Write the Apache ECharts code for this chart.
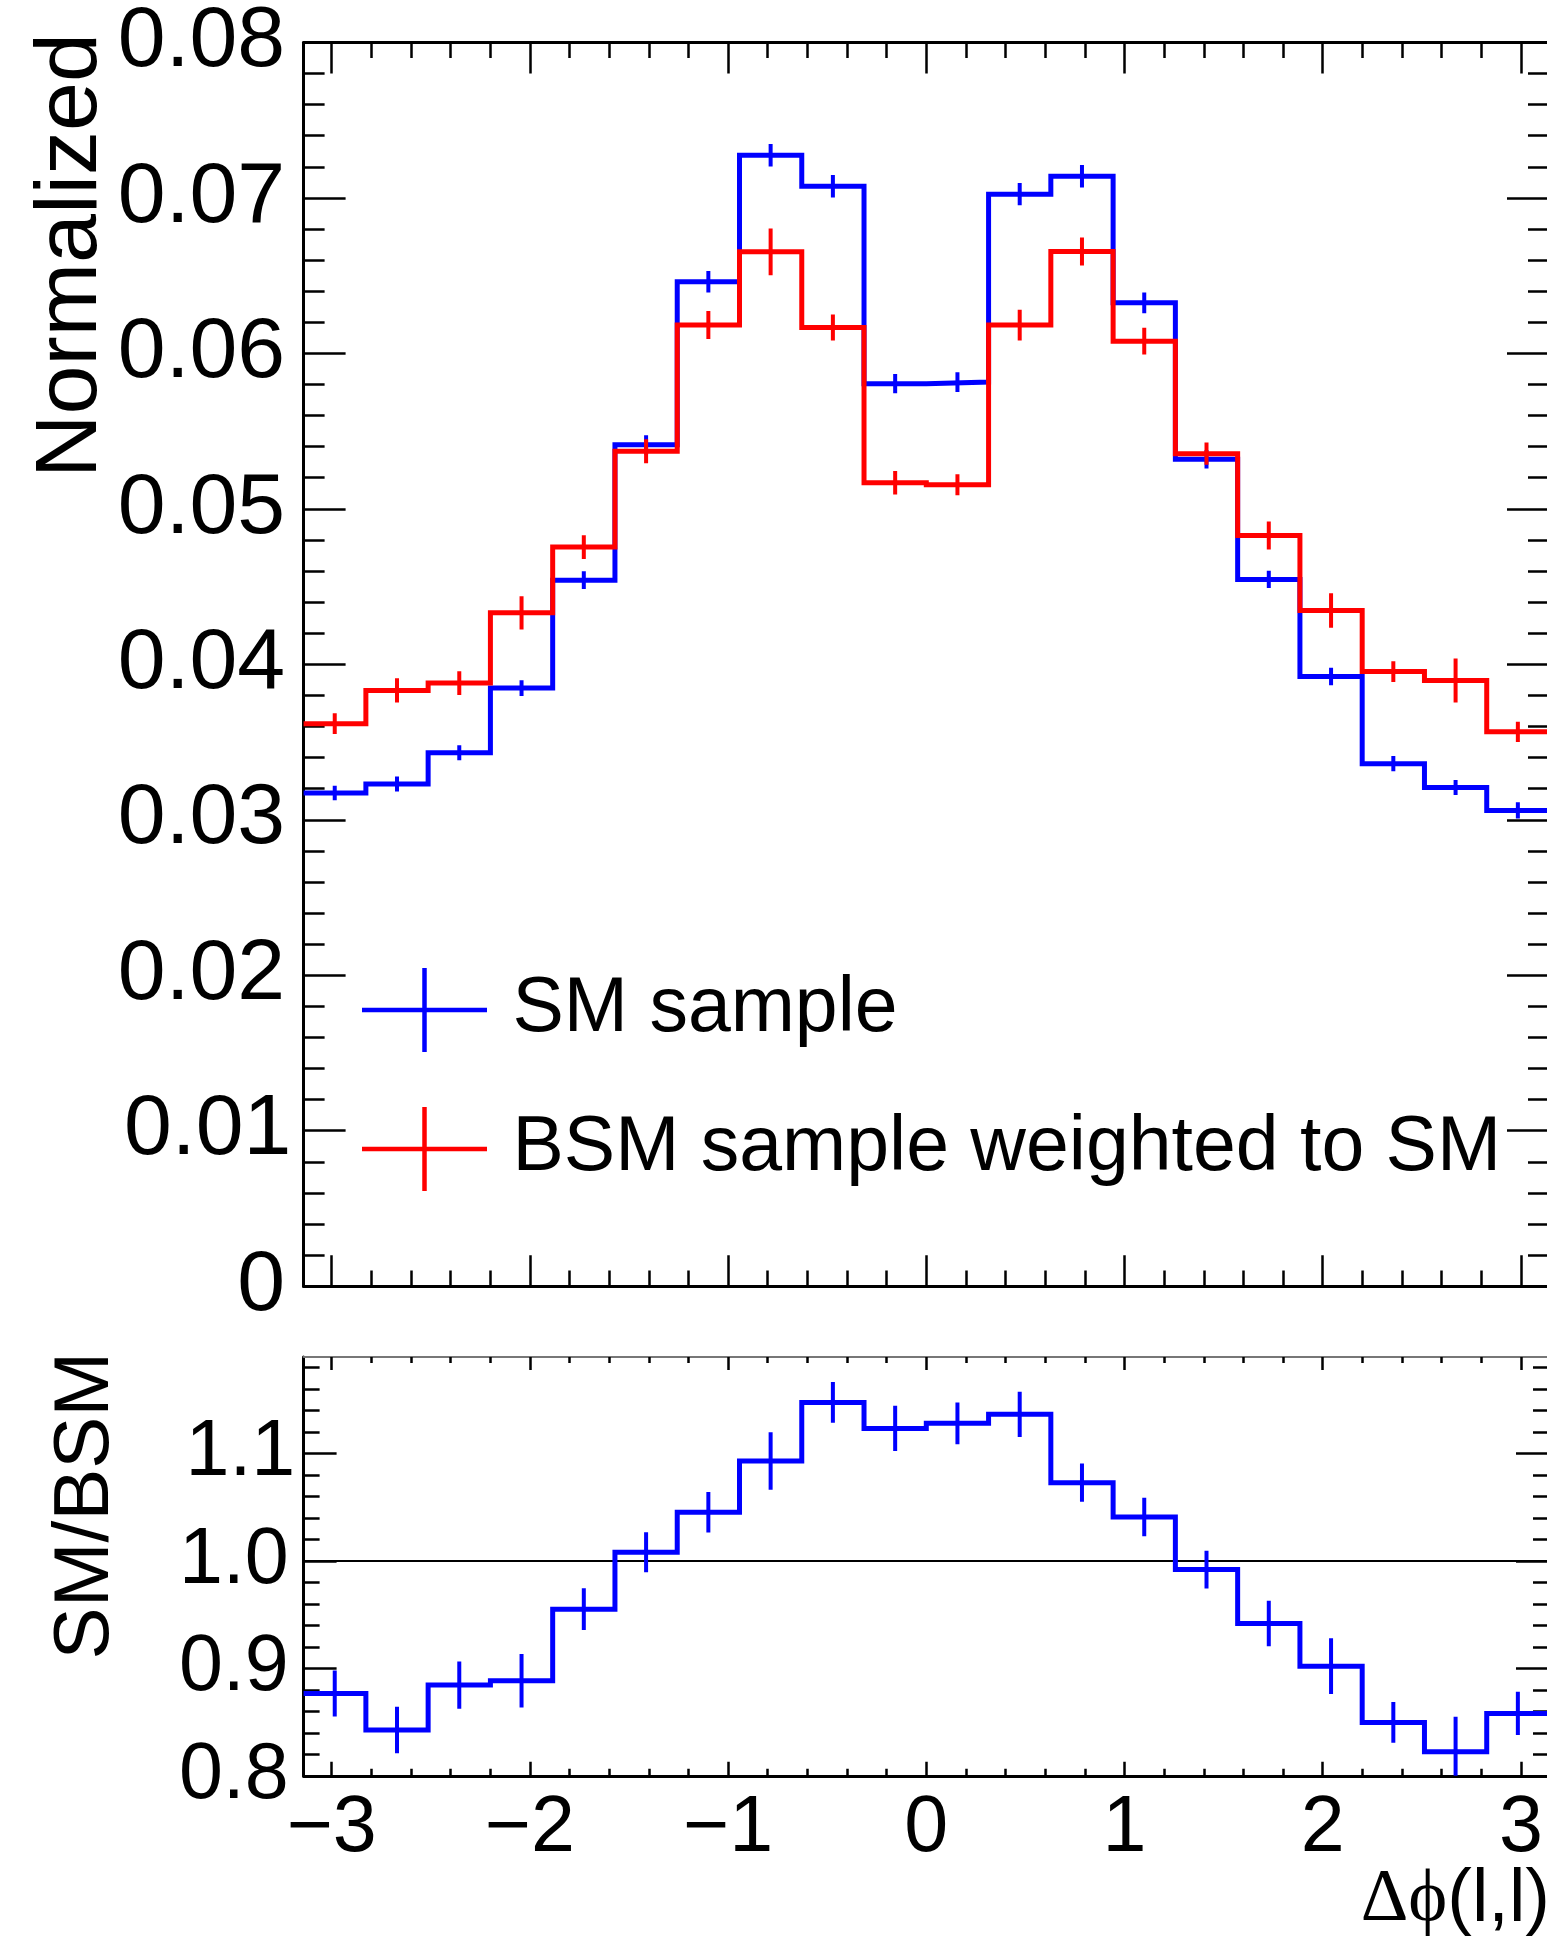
<!DOCTYPE html>
<html><head><meta charset="utf-8">
<script src="https://cdn.jsdelivr.net/npm/echarts@6/dist/echarts.min.js"></script>
<style>html,body{margin:0;padding:0;background:#fff}#c{width:1547px;height:1943px}</style>
</head><body><div id="c"></div>
<script>
// ---------------- data ----------------
const binEdges = [-3.1416, -2.8274, -2.5133, -2.1991, -1.8850, -1.5708, -1.2566, -0.9425, -0.6283, -0.3142, 0,
                  0.3142, 0.6283, 0.9425, 1.2566, 1.5708, 1.8850, 2.1991, 2.5133, 2.8274, 3.1416];
const smValues  = [0.03172, 0.03230, 0.03431, 0.03847, 0.04541, 0.05412, 0.06460, 0.07274, 0.07075, 0.05805,
                   0.05815, 0.07024, 0.07139, 0.06325, 0.05319, 0.04546, 0.03922, 0.03361, 0.03208, 0.03060];
const smErrors  = [0.00047, 0.00048, 0.00048, 0.00051, 0.00057, 0.00062, 0.00069, 0.00072, 0.00072, 0.00062,
                   0.00064, 0.00072, 0.00073, 0.00067, 0.00060, 0.00055, 0.00056, 0.00049, 0.00048, 0.00052];
const bsmValues = [0.03618, 0.03832, 0.03879, 0.04331, 0.04754, 0.05370, 0.06182, 0.06653, 0.06166, 0.05168,
                   0.05155, 0.06182, 0.06655, 0.06078, 0.05355, 0.04828, 0.04346, 0.03953, 0.03896, 0.03566];
const bsmErrors = [0.00067, 0.00078, 0.00077, 0.00107, 0.00076, 0.00077, 0.00090, 0.00150, 0.00084, 0.00076,
                   0.00067, 0.00099, 0.00090, 0.00086, 0.00072, 0.00090, 0.00111, 0.00067, 0.00141, 0.00065];
const ratioValues = [0.8767, 0.8426, 0.8845, 0.8885, 0.9552, 1.0082, 1.0454, 1.0932, 1.1477, 1.1235,
                     1.1282, 1.1366, 1.0730, 1.0410, 0.9920, 0.9419, 0.9021, 0.8497, 0.8224, 0.8581];
const ratioErrors = [0.0214, 0.0217, 0.0220, 0.0250, 0.0194, 0.0186, 0.0188, 0.0268, 0.0190, 0.0210,
                     0.0194, 0.0210, 0.0178, 0.0180, 0.0175, 0.0212, 0.0260, 0.0190, 0.0326, 0.0202];
const referenceLine = [1.0];

const xMajorTicks = [-3, -2, -1, 0, 1, 2, 3];
const xMinorTicks = [-2.8, -2.6, -2.4, -2.2, -1.8, -1.6, -1.4, -1.2, -0.8, -0.6, -0.4, -0.2,
                     0.2, 0.4, 0.6, 0.8, 1.2, 1.4, 1.6, 1.8, 2.2, 2.4, 2.6, 2.8];
const mainYMajor = [0, 0.01, 0.02, 0.03, 0.04, 0.05, 0.06, 0.07, 0.08];
const mainYMinor = [0.002, 0.004, 0.006, 0.008, 0.012, 0.014, 0.016, 0.018, 0.022, 0.024, 0.026, 0.028,
                    0.032, 0.034, 0.036, 0.038, 0.042, 0.044, 0.046, 0.048, 0.052, 0.054, 0.056, 0.058,
                    0.062, 0.064, 0.066, 0.068, 0.072, 0.074, 0.076, 0.078];
const ratioYMajor = [0.8, 0.9, 1.0, 1.1];
const ratioYMinor = [0.82, 0.84, 0.86, 0.88, 0.92, 0.94, 0.96, 0.98, 1.02, 1.04, 1.06, 1.08,
                     1.12, 1.14, 1.16, 1.18];
const legendNames = ['SM sample', 'BSM sample weighted to SM'];
const axisTitles = {main: 'Normalized', ratio: 'SM/BSM', x: ['\u0394\u03d5', '(l,l)']};

// ---------------- helpers ----------------
const FONT = "'Liberation Sans', Arial, Helvetica, sans-serif";
const BLUE = '#0000ff', RED = '#ff0000';
const X0 = binEdges[0], X1 = binEdges[binEdges.length - 1];

function stepData(vals) {
  const d = vals.map((v, i) => [binEdges[i], v]);
  d.push([binEdges[binEdges.length - 1], vals[vals.length - 1]]);
  return d;
}
function errData(vals, errs) {
  return vals.map((v, i) => [(binEdges[i] + binEdges[i + 1]) / 2, v - errs[i], v + errs[i]]);
}
function errRender(color, width) {
  return function (params, api) {
    const p1 = api.coord([api.value(0), api.value(1)]);
    const p2 = api.coord([api.value(0), api.value(2)]);
    return {type: 'line', shape: {x1: p1[0], y1: p1[1], x2: p2[0], y2: p2[1]},
            style: {stroke: color, lineWidth: width, fill: null}};
  };
}
function ax(kind, grid, pos, ticks, len, extra) {
  const base = {
    type: 'value', gridIndex: grid, position: pos,
    axisLine: {show: false, onZero: false},
    splitLine: {show: false}, minorTick: {show: false}, minorSplitLine: {show: false},
    axisTick: {show: true, inside: true, length: len, customValues: ticks,
               lineStyle: {color: '#000', width: 2.5}},
    axisLabel: {show: false}
  };
  if (kind === 'x') { base.min = X0; base.max = X1; }
  else if (grid === 0) { base.min = 0; base.max = 0.08; }
  else { base.min = 0.8; base.max = 1.19; }
  return Object.assign(base, extra || {});
}
const blackLine = (w, c) => ({show: true, onZero: false, lineStyle: {color: c || '#000', width: w}});

function yLabel(size, margin, padA, padB, fmt) {
  return {
    show: true, margin: margin, fontSize: size, fontFamily: FONT, color: '#000',
    formatter: function (v) {
      const s = fmt(v);
      return s.charAt(s.length - 1) === '1' ? '{b|' + s + '}' : '{a|' + s + '}';
    },
    rich: {
      a: {fontSize: size, fontFamily: FONT, color: '#000', padding: [0, padA, 0, 0]},
      b: {fontSize: size, fontFamily: FONT, color: '#000', padding: [0, padB, 0, 0]}
    }
  };
}

const xAxes = [
  ax('x', 0, 'bottom', xMajorTicks, 31, {axisLine: blackLine(3)}),
  ax('x', 0, 'bottom', xMinorTicks, 15.6),
  ax('x', 0, 'top', xMajorTicks, 31, {axisLine: blackLine(3)}),
  ax('x', 0, 'top', xMinorTicks, 15.6),
  ax('x', 1, 'bottom', xMajorTicks, 14, {
    axisLine: blackLine(3),
    axisLabel: {show: true, customValues: xMajorTicks, margin: 14, fontSize: 79, fontFamily: FONT, color: '#000',
                formatter: v => (v < 0 ? '\u2212' + Math.abs(v) : String(v))}
  }),
  ax('x', 1, 'bottom', xMinorTicks, 7),
  ax('x', 1, 'top', xMajorTicks, 13, {axisLine: blackLine(2, '#777')}),
  ax('x', 1, 'top', xMinorTicks, 6)
];
const yAxes = [
  ax('y', 0, 'left', mainYMajor, 42, {
    axisLine: blackLine(3),
    axisLabel: Object.assign(yLabel(86, 12.3, 6.1, 0, v => (v === 0 ? '0' : v.toFixed(2))), {customValues: mainYMajor})
  }),
  ax('y', 0, 'left', mainYMinor, 21),
  ax('y', 0, 'right', mainYMajor, 42, {axisLine: blackLine(3)}),
  ax('y', 0, 'right', mainYMinor, 21),
  ax('y', 1, 'left', ratioYMajor, 33, {
    axisLine: blackLine(3),
    axisLabel: Object.assign(yLabel(79, 2.3, 12.6, 6, v => v.toFixed(1)), {customValues: ratioYMajor})
  }),
  ax('y', 1, 'left', ratioYMinor, 16),
  ax('y', 1, 'right', ratioYMajor, 33, {axisLine: blackLine(3)}),
  ax('y', 1, 'right', ratioYMinor, 16)
];

const CROSS = 'path://M0,39.75 L125,39.75 L125,44.25 L0,44.25 Z M60.25,0 L64.75,0 L64.75,84 L60.25,84 Z';

const option = {
  animation: false,
  backgroundColor: '#ffffff',
  grid: [
    {left: 303.6, top: 42.4, width: 1245.4, height: 1243.8, containLabel: false, outerBoundsMode: 'none'},
    {left: 303.6, top: 1357, width: 1245.4, height: 418.8, containLabel: false, outerBoundsMode: 'none'}
  ],
  xAxis: xAxes,
  yAxis: yAxes,
  legend: {
    orient: 'vertical', left: 362, top: 968, padding: 0,
    itemWidth: 125, itemHeight: 84, itemGap: 55, selectedMode: false,
    itemStyle: {borderWidth: 0},
    data: legendNames.map(n => ({name: n, icon: CROSS})),
    textStyle: {fontSize: 77, fontFamily: FONT, color: '#000', padding: [12, 0, 0, 20.5]}
  },
  graphic: [
    {type: 'text', x: 72, y: 33, rotation: Math.PI / 2,
     style: {text: axisTitles.main, font: '88px ' + FONT, fill: '#000', align: 'right', verticalAlign: 'middle'}},
    {type: 'text', x: 86.5, y: 1351.7, rotation: Math.PI / 2,
     style: {text: axisTitles.ratio, font: '78px ' + FONT, fill: '#000', align: 'right', verticalAlign: 'middle'}},
    {type: 'text', x: 1550, y: 1901,
     style: {text: '{d|' + axisTitles.x[0] + '}{n|' + axisTitles.x[1] + '}', align: 'right', verticalAlign: 'middle',
             rich: {d: {fontSize: 74, fontFamily: "'Liberation Serif', 'DejaVu Serif', serif", fill: '#000'},
                    n: {fontSize: 74, fontFamily: FONT, fill: '#000'}}}}
  ],
  series: [
    {name: legendNames[0], type: 'line', xAxisIndex: 0, yAxisIndex: 0, step: 'end', symbol: 'none',
     data: stepData(smValues), z: 3,
     itemStyle: {color: BLUE}, lineStyle: {color: BLUE, width: 5, join: 'miter'}},
    {name: legendNames[1], type: 'line', xAxisIndex: 0, yAxisIndex: 0, step: 'end', symbol: 'none',
     data: stepData(bsmValues), z: 5,
     itemStyle: {color: RED}, lineStyle: {color: RED, width: 5, join: 'miter'}},
    {name: 'smErr', type: 'custom', xAxisIndex: 0, yAxisIndex: 0, z: 4, clip: true,
     renderItem: errRender(BLUE, 4), data: errData(smValues, smErrors)},
    {name: 'bsmErr', type: 'custom', xAxisIndex: 0, yAxisIndex: 0, z: 6, clip: true,
     renderItem: errRender(RED, 4), data: errData(bsmValues, bsmErrors)},
    {name: 'unity', type: 'line', xAxisIndex: 4, yAxisIndex: 4, symbol: 'none', z: 2,
     data: [[X0, referenceLine[0]], [X1, referenceLine[0]]],
     itemStyle: {color: '#000'}, lineStyle: {color: '#000', width: 2}},
    {name: 'ratio', type: 'line', xAxisIndex: 4, yAxisIndex: 4, step: 'end', symbol: 'none',
     data: stepData(ratioValues), z: 3,
     itemStyle: {color: BLUE}, lineStyle: {color: BLUE, width: 5, join: 'miter'}},
    {name: 'ratioErr', type: 'custom', xAxisIndex: 4, yAxisIndex: 4, z: 4, clip: true,
     renderItem: errRender(BLUE, 4), data: errData(ratioValues, ratioErrors)}
  ]
};

const chart = echarts.init(document.getElementById('c'), null, {renderer: 'canvas', width: 1547, height: 1943});
chart.setOption(option);
</script>
</body></html>
